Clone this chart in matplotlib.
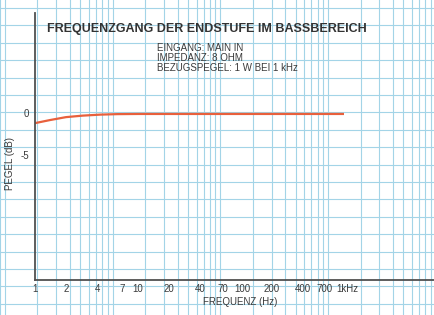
import numpy as np
import matplotlib
matplotlib.use("Agg")
import matplotlib.pyplot as plt
from matplotlib.ticker import LogLocator, MultipleLocator, NullFormatter, FixedLocator, FixedFormatter, NullLocator
from matplotlib.transforms import ScaledTranslation

# ---- data ----
freq_hz = [1, 1.4, 2, 2.9, 4.3, 6.3, 10, 20, 50, 100, 200, 500, 1000]
level_db = [-1.2, -0.83, -0.48, -0.3, -0.18, -0.12, -0.1, -0.1, -0.1, -0.1, -0.1, -0.1, -0.1]

xtick_vals = [1, 2, 4, 7, 10, 20, 40, 70, 100, 200, 400, 700, 1000]
xtick_labels = ['1', '2', '4', '7', '10', '20', '40', '70', '100', '200', '400', '700', '1kHz']
ytick_vals = [0, -5]
ytick_labels = ['0', '-5']

title = "FREQUENZGANG DER ENDSTUFE IM BASSBEREICH"
info_lines = ["EINGANG: MAIN IN", "IMPEDANZ: 8 OHM", "BEZUGSPEGEL: 1 W BEI 1 kHz"]

plt.rcParams['font.family'] = ['Liberation Sans', 'DejaVu Sans']

W, H = 435, 315
fig = plt.figure(figsize=(W / 100, H / 100), dpi=100)
fig.patch.set_facecolor('white')

# ---- background log graph paper ----
grid_col = '#a3d4e7'
bg = fig.add_axes([0, 0, 1, 1], zorder=0)
bg.set_xscale('log')
dec_px = 107.7
bg.set_xlim(10 ** (-5 / dec_px), 10 ** ((W - 5) / dec_px))
bg.set_ylim(-0.644, H / 17.4 - 0.644)
bg.xaxis.set_major_locator(LogLocator(base=10))
bg.xaxis.set_minor_locator(LogLocator(base=10, subs=np.arange(2, 10)))
bg.xaxis.set_major_formatter(NullFormatter())
bg.xaxis.set_minor_formatter(NullFormatter())
bg.yaxis.set_major_locator(MultipleLocator(1))
bg.yaxis.set_major_formatter(NullFormatter())
bg.tick_params(which='both', length=0)
for s in bg.spines.values():
    s.set_visible(False)
bg.grid(True, which='both', axis='both', color=grid_col, lw=0.8)
bg.set_facecolor('white')

# ---- main axes ----
ax = fig.add_axes([35 / W, 35 / H, 400 / W, 267 / H], zorder=1)
ax.patch.set_alpha(0)
ax.set_xscale('log')
ax.set_xlim(1, 10 ** (400 / 103))
ax.set_ylim(-20, 12)
ax.plot(freq_hz, level_db, color='#e8603c', lw=1.6, solid_capstyle='butt')

ax.xaxis.set_major_locator(FixedLocator(xtick_vals))
ax.xaxis.set_major_formatter(FixedFormatter(xtick_labels))
ax.xaxis.set_minor_locator(NullLocator())
ax.yaxis.set_major_locator(FixedLocator(ytick_vals))
ax.yaxis.set_major_formatter(FixedFormatter(ytick_labels))
ax.tick_params(axis='both', length=0, labelsize=7, colors='#3a3a3a')
ax.tick_params(axis='x', pad=3)
ax.tick_params(axis='y', pad=4)
for side in ['top', 'right']:
    ax.spines[side].set_visible(False)
for side in ['left', 'bottom']:
    ax.spines[side].set_color('#505050')
    ax.spines[side].set_linewidth(1.3)

# nudge crowded tick labels apart like the reference
fig.canvas.draw()
shifts = {'700': -3, '1kHz': 3, '70': -2, '100': 1}
for lab in ax.get_xticklabels():
    dx = shifts.get(lab.get_text())
    if dx:
        lab.set_transform(lab.get_transform() + ScaledTranslation(dx / 100, 0, fig.dpi_scale_trans))

# ---- texts ----
fig.text(47 / W, 1 - 29 / H, title, fontsize=9, fontweight='bold',
         color='#333333', ha='left', va='center')
for i, line in enumerate(info_lines):
    fig.text(157 / W, 1 - (48 + 10 * i) / H, line, fontsize=7,
             color='#3a3a3a', ha='left', va='center')
fig.text(240 / W, 1 - 302 / H, "FREQUENZ (Hz)", fontsize=7, color='#3a3a3a',
         ha='center', va='center')
fig.text(10 / W, 1 - 164 / H, "PEGEL (dB)", fontsize=7, color='#3a3a3a',
         ha='center', va='center', rotation=90)

fig.savefig('out.png', dpi=100, facecolor=fig.get_facecolor())
